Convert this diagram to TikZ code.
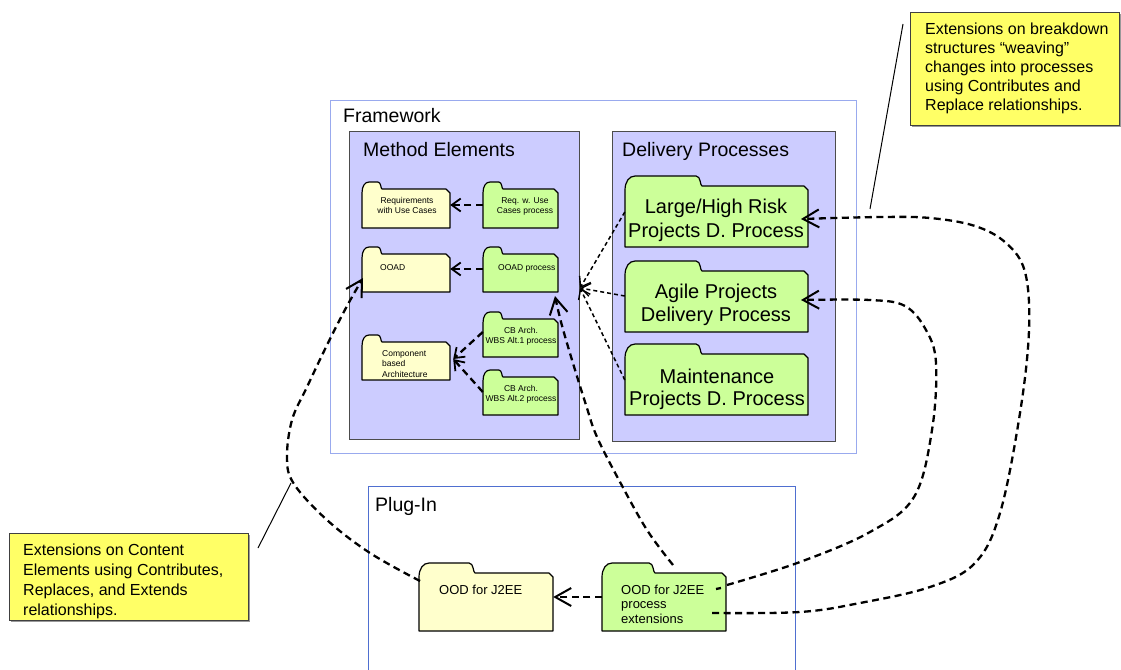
\documentclass[tikz,border=0pt]{standalone}
\usepackage{fontspec}
\setmainfont{Liberation Sans}
\usetikzlibrary{arrows.meta,calc}
\definecolor{fwblue}{HTML}{99AAEE}
\definecolor{plugblue}{HTML}{4F6FD0}
\definecolor{melav}{HTML}{CCCCFF}
\definecolor{fyel}{HTML}{FFFFCC}
\definecolor{fgrn}{HTML}{CCFF99}
\definecolor{noteyel}{HTML}{FFFF66}
\newcommand\fsz[2]{\fontsize{#1}{#2}\selectfont}
\newcommand\mlL[1]{\begin{tabular}[t]{@{}l@{}}#1\end{tabular}}
\newcommand\mlC[1]{\begin{tabular}[t]{@{}c@{}}#1\end{tabular}}
% #1 name, #2 x1, #3 tab top, #4 x2, #5 bottom, #6 tab width, #7 tab height, #8 fill
\newcommand\folder[8]{%
 \pgfmathsetmacro\fyb{#3+#7}%
 \pgfmathsetmacro\fa{#2+#7}%
 \pgfmathsetmacro\fb{#2+#6-#7*0.6}%
 \pgfmathsetmacro\fc{#2+#6}%
 \draw[folderline,fill=#8] (#2,#5) -- (#2,{\fyb+4})
   .. controls (#2,{\fyb-#7*0.4}) and ({#2+#7*0.4},#3) .. (\fa,#3)
   -- (\fb,#3) .. controls ({\fb+#7*0.5},#3) and ({\fc-#7*0.2},\fyb) .. (\fc,\fyb)
   -- ({#4-4},\fyb) -- (#4,{\fyb+4}) -- (#4,#5) -- cycle;
 \pgfmathsetmacro\fw{#4-#2}%
 \pgfmathsetmacro\fh{#5-\fyb}%
 \node[inner sep=0pt,minimum width=\fw pt,minimum height=\fh pt] (#1) at ({(#2+#4)/2},{(\fyb+#5)/2}) {};
}
\tikzset{
 folderline/.style={draw=black,line width=1.2pt,line join=round},
 conn/.style={dashed,dash pattern=on 7pt off 4.5pt,line width=2.3pt},
 thinconn/.style={dashed,dash pattern=on 4pt off 3pt,line width=1.5pt},
 bigtip/.style={-{Straight Barb[length=16pt,width=18pt,line width=2pt]}},
 smalltip/.style={-{Straight Barb[length=9pt,width=13pt,line width=1.8pt]}},
 midtip/.style={-{Straight Barb[length=9pt,width=13pt,line width=1.4pt]}},
 pkgbox/.style={draw=black!70,line width=1.2pt,fill=melav,inner sep=0pt,anchor=north west},
 note/.style={draw=black!75,line width=1pt,fill=noteyel,inner sep=0pt,anchor=north west},
 txt/.style={inner sep=0pt,anchor=base west},
 ctxt/.style={inner sep=0pt,anchor=base},
}
\begin{document}
\begin{tikzpicture}[x=1pt,y=-1pt]
\useasboundingbox (0,0) rectangle (1121,669);
% framework
\draw[fwblue,line width=1pt] (330,100) rectangle (856,453);
\node[txt] (fwt) at (343,122) {\fsz{19.5}{22}Framework};
\node[pkgbox,minimum width=230pt,minimum height=308pt] (me) at (349,131) {};
\node[txt] (met) at (363,156) {\fsz{19.5}{22}Method Elements};
\node[pkgbox,minimum width=223pt,minimum height=310pt] (dp) at (612,131) {};
\node[txt] (dpt) at (622,156) {\fsz{19.5}{22}Delivery Processes};
% plug-in
\draw[plugblue,line width=1pt] (368,670) -- (368,486) -- (795,486) -- (795,670);
\node[txt] (pit) at (375,511) {\fsz{19.5}{22}Plug-In};
% small folders
\folder{req}{362}{182}{450}{228}{20}{7}{fyel}
\folder{reqp}{483}{182}{558}{228}{20}{7}{fgrn}
\folder{ooad}{362}{247}{450}{292}{20}{7}{fyel}
\folder{ooadp}{483}{247}{558}{292}{20}{7}{fgrn}
\folder{cb1}{483}{312}{558}{357}{20}{7}{fgrn}
\folder{comp}{362}{335}{450}{380}{20}{7}{fyel}
\folder{cb2}{483}{370}{558}{415}{20}{7}{fgrn}
\node[ctxt] at (407,203) {\fsz{8.5}{10.5}\mlC{Requirements\\with Use Cases}};
\node[ctxt] at (525,203) {\fsz{8.5}{10.5}\mlC{Req. w. Use\\Cases process}};
\node[txt] at (380,270) {\fsz{8.5}{10.5}OOAD};
\node[txt] at (498,270) {\fsz{8.5}{10.5}OOAD process};
\node[ctxt] at (521,333) {\fsz{8.5}{10.5}\mlC{CB Arch.\\WBS Alt.1 process}};
\node[txt] at (382,356) {\fsz{8.5}{10.5}\mlL{Component\\based\\Architecture}};
\node[ctxt] at (521,391) {\fsz{8.5}{10.5}\mlC{CB Arch.\\WBS Alt.2 process}};
% delivery folders
\folder{lhr}{625}{176}{808}{247}{77}{10}{fgrn}
\folder{agile}{625}{261}{808}{332}{77}{10}{fgrn}
\folder{maint}{625}{344}{808}{415}{77}{10}{fgrn}
\node[ctxt] at (716,213) {\fsz{20}{24}\mlC{Large/High Risk\\Projects D. Process}};
\node[ctxt] at (716,298) {\fsz{20}{23}\mlC{Agile Projects\\Delivery Process}};
\node[ctxt] at (717,383) {\fsz{20}{22}\mlC{Maintenance\\Projects D. Process}};
% plug-in folders
\folder{j2ee}{419}{563}{553}{631}{56}{10}{fyel}
\folder{ext}{602}{563}{726}{631}{53}{10}{fgrn}
\node[txt] at (439,594) {\fsz{13}{16}OOD for J2EE};
\node[txt] at (621,594) {\fsz{13}{14.5}\mlL{OOD for J2EE\\process\\extensions}};
% notes
\fill[black!40] (11,535) rectangle (250,622);
\node[note,minimum width=239pt,minimum height=87pt] (n1) at (9,533) {};
\node[txt] at (23,555) {\fsz{16}{20}\mlL{Extensions on Content\\Elements using Contributes,\\Replaces, and Extends\\relationships.}};
\fill[black!40] (912,14) rectangle (1121,127);
\node[note,minimum width=209pt,minimum height=113pt] (n2) at (910,12) {};
\node[txt] at (925,35) {\fsz{16}{19}\mlL{Extensions on breakdown\\structures \char"201C weaving\char"201D\\changes into processes\\using Contributes and\\Replace relationships.}};
% callout lines
\coordinate (c1a) at (903,24); \coordinate (c1b) at (870,209);
\draw[line width=1pt] (c1a) -- (c1b);
\coordinate (c2a) at (291,483); \coordinate (c2b) at (258,548);
\draw[line width=1pt] (c2a) -- (c2b);
% internal connectors
\draw[conn,smalltip] (reqp.west |- 0,205) -- (req.east |- 0,205);
\draw[conn,smalltip] (ooadp.west |- 0,269) -- (ooad.east |- 0,269);
\draw[conn,smalltip] (cb1.west |- 0,332) -- ($(comp.east)+(3,-2)$);
\draw[conn,smalltip] (cb2.west |- 0,392) -- ($(comp.east)+(3,-2)$);
% delivery to method elements
\coordinate (conv) at (580,288);
\draw[thinconn,midtip] (lhr.west |- 0,212) -- (conv);
\draw[thinconn,midtip] (agile.west |- 0,296) -- (conv);
\draw[thinconn,midtip] (maint.west |- 0,380) -- (conv);
% plug-in connectors
\draw[conn,bigtip] (ext.west |- 0,597) -- (j2ee.east |- 0,597);
\draw[conn,bigtip] plot[smooth,tension=0.6] coordinates {(673,565) (647,530) (620,482) (597,437) (586,405) (572,360) (561,322) (555,296)};
\draw[conn,bigtip] plot[smooth,tension=0.6] coordinates {(420,581) (370,553) (327,520) (294,484) (287,458) (292,420) (307,387) (328,343) (347,306) (363,278)};
\draw[conn,bigtip] plot[smooth,tension=0.6] coordinates {(712,613) (800,612) (860,603) (930,587) (975,563) (1000,513) (1020,413) (1029,330) (1025,272) (1006,243) (975,226) (930,218) (880,217) (801,219)};
\draw[conn] (716,589) -- (721,588);
\draw[conn,bigtip] plot[smooth,tension=0.6] coordinates {(727,585) (800,562) (870,532) (914,497) (932,430) (936,363) (926,330) (905,306) (870,300) (801,300)};
\end{tikzpicture}
\end{document}
